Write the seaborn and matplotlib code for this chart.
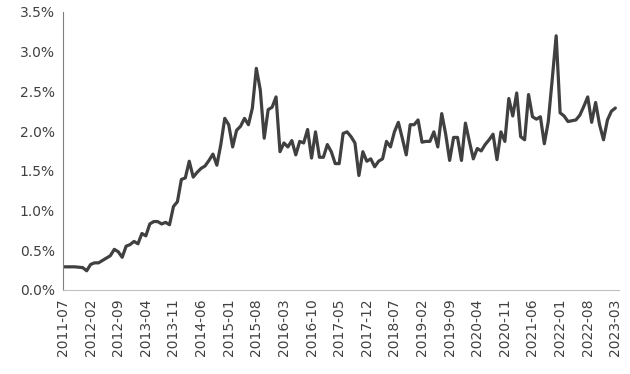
import numpy as np
import pandas as pd
import matplotlib
matplotlib.use("Agg")
import matplotlib.pyplot as plt
import matplotlib.ticker as mtick
import seaborn as sns

# monthly values, 2011-07 .. 2023-03 (in %)
start_month = "2011-07"
vals_2011_2013 = [0.29, 0.29, 0.29, 0.29, 0.285, 0.28, 0.24, 0.32, 0.34, 0.34,
                  0.37, 0.40, 0.43, 0.51, 0.48, 0.41, 0.55, 0.57, 0.61, 0.58,
                  0.71, 0.68, 0.83, 0.86, 0.86, 0.83, 0.85, 0.82]
vals_2013_2016 = [1.05, 1.11, 1.39, 1.41, 1.62, 1.42, 1.48, 1.53, 1.56, 1.63,
                  1.71, 1.57, 1.83, 2.16, 2.08, 1.80, 2.01, 2.06, 2.16, 2.08,
                  2.29, 2.79, 2.52, 1.91, 2.27, 2.30, 2.43, 1.74, 1.85, 1.80,
                  1.88, 1.70, 1.87, 1.85, 2.02, 1.66, 1.99, 1.67, 1.67, 1.83,
                  1.74, 1.59, 1.59]
vals_2017_2019 = [1.97, 1.99, 1.93, 1.85, 1.44, 1.74, 1.62, 1.65, 1.55, 1.62,
                  1.65, 1.87, 1.80, 1.99, 2.11, 1.91, 1.70, 2.08, 2.08, 2.14,
                  1.86, 1.87, 1.87, 1.99, 1.80, 2.22, 1.96, 1.63, 1.92, 1.92,
                  1.63, 2.10, 1.87, 1.65]
vals_2020_2023 = [1.78, 1.75, 1.83, 1.89, 1.96, 1.64, 1.99, 1.87, 2.41, 2.19,
                  2.48, 1.93, 1.89, 2.46, 2.18, 2.15, 2.18, 1.84, 2.12, 2.65,
                  3.20, 2.23, 2.19, 2.12, 2.13, 2.14, 2.20, 2.31, 2.43, 2.11,
                  2.36, 2.08, 1.89, 2.14, 2.25, 2.29]

values = np.array(vals_2011_2013 + vals_2013_2016 + vals_2017_2019 + vals_2020_2023) / 100
months = pd.date_range(start_month, periods=len(values), freq="MS").strftime("%Y-%m")
df = pd.DataFrame({"pos": np.arange(len(values)), "value": values})

sns.set_style("white")
plt.rcParams["font.family"] = ["DejaVu Sans"]

fig = plt.figure(figsize=(6.3, 3.74), dpi=100)
ax = fig.add_axes([0.1, 0.225, 0.883, 0.743])

sns.lineplot(data=df, x="pos", y="value", color="#404040", linewidth=2.3, ax=ax)

ax.set_xlim(0, len(values))
ax.set_ylim(0, 0.035)
ax.yaxis.set_major_locator(mtick.MultipleLocator(0.005))
ax.yaxis.set_major_formatter(mtick.PercentFormatter(1.0, decimals=1))

tick_pos = np.arange(0, len(values), 7)
ax.set_xticks(tick_pos)
ax.set_xticklabels([months[i] for i in tick_pos], rotation=90)

ax.set_xlabel("")
ax.set_ylabel("")
sns.despine(ax=ax)
ax.spines["left"].set_color("#7f7f7f")
ax.spines["bottom"].set_color("#c0c0c0")
ax.tick_params(axis="y", direction="in", length=5, color="#7f7f7f",
               labelsize=10, labelcolor="#404040", pad=6)
ax.tick_params(axis="x", direction="out", length=3, color="#c0c0c0",
               labelsize=10, labelcolor="#404040", pad=3)

fig.savefig("out.png", dpi=100)
